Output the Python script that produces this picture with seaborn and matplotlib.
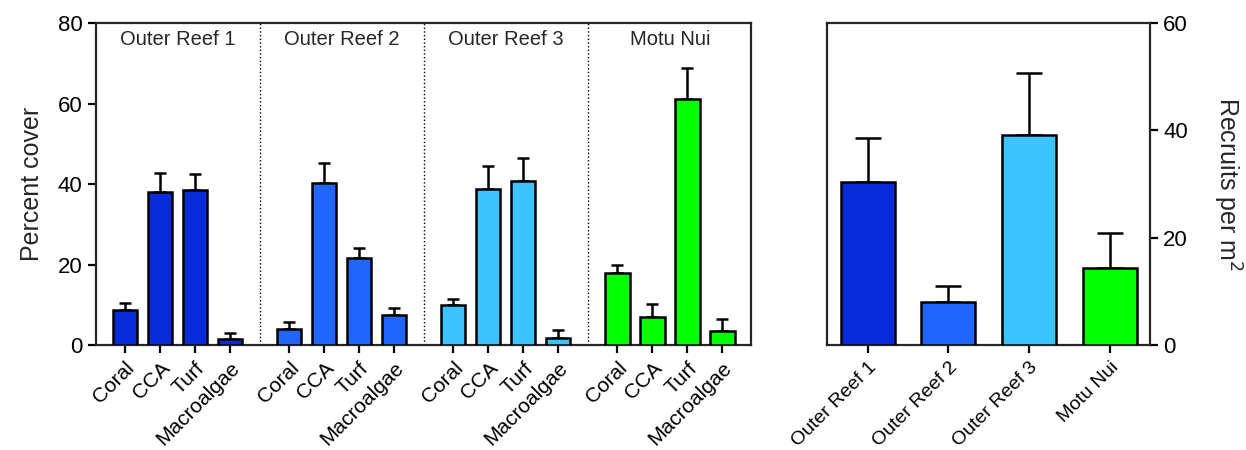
import pandas as pd
import numpy as np
import matplotlib
matplotlib.use("Agg")
import matplotlib.pyplot as plt
import seaborn as sns

# ------------------------------
# Data
# ------------------------------
sites = ["Outer Reef 1", "Outer Reef 2", "Outer Reef 3", "Motu Nui"]
benthos = ["Coral", "CCA", "Turf", "Macroalgae"]

cover_or1 = [8.7, 38.1, 38.4, 1.5]
cover_or2 = [4.1, 40.3, 21.6, 7.5]
cover_or3 = [9.9, 38.7, 40.8, 1.8]
cover_motu = [18.0, 7.0, 61.2, 3.5]

cover_err_or1 = [1.7, 4.6, 4.1, 1.6]
cover_err_or2 = [1.6, 4.9, 2.4, 1.7]
cover_err_or3 = [1.5, 5.7, 5.6, 1.9]
cover_err_motu = [2.0, 3.3, 7.7, 3.0]

recruits = [30.4, 8.0, 39.2, 14.4]
recruits_err = [8.1, 3.0, 11.5, 6.5]

site_colors = ["#0A2BDB", "#2167FF", "#3BC4FF", "#00FF00"]

# ------------------------------
# Style
# ------------------------------
sns.set_style("ticks")
plt.rcParams["font.family"] = ["Liberation Sans", "DejaVu Sans"]
plt.rcParams["axes.linewidth"] = 1.6
plt.rcParams["xtick.major.width"] = 1.6
plt.rcParams["ytick.major.width"] = 1.6
plt.rcParams["xtick.major.size"] = 6
plt.rcParams["ytick.major.size"] = 6
plt.rcParams["xtick.color"] = "black"
plt.rcParams["ytick.color"] = "black"

palette = dict(zip(sites, site_colors))
group_step = 4.69  # spacing between site groups on the left panel

cover_all = [cover_or1, cover_or2, cover_or3, cover_motu]
err_all = [cover_err_or1, cover_err_or2, cover_err_or3, cover_err_motu]
rows = []
for g, site in enumerate(sites):
    for i, cat in enumerate(benthos):
        rows.append({"site": site, "benthos": cat, "pos": g * group_step + i,
                     "cover": cover_all[g][i], "err": err_all[g][i]})
df_cover = pd.DataFrame(rows)

df_rec = pd.DataFrame({"site": sites, "recruits": recruits, "err": recruits_err})

fig = plt.figure(figsize=(12.46, 4.5), dpi=100)
ax1 = fig.add_axes([0.077, 0.233, 0.526, 0.716])
ax2 = fig.add_axes([0.664, 0.233, 0.259, 0.716])

# --- Left panel : percent cover ---
sns.barplot(data=df_cover, x="pos", y="cover", hue="site", palette=palette,
            native_scale=True, dodge=False, width=0.7, errorbar=None,
            saturation=1, edgecolor="black", linewidth=1.8, legend=False,
            ax=ax1, zorder=3)
ax1.errorbar(df_cover["pos"], df_cover["cover"],
             yerr=[np.zeros(len(df_cover)), df_cover["err"]],
             fmt="none", ecolor="black", elinewidth=1.8, capsize=4.6,
             capthick=1.8, zorder=2)
ax1.set_xlim(-0.83, 3 * group_step + 3 + 0.83)
ax1.set_ylim(0, 80)
ax1.set_yticks([0, 20, 40, 60, 80])
ax1.set_xticks(df_cover["pos"])
ax1.set_xticklabels(df_cover["benthos"], rotation=45, ha="right",
                    rotation_mode="anchor", fontsize=15)
ax1.tick_params(axis="y", labelsize=16)
ax1.set_xlabel("")
ax1.set_ylabel("Percent cover", fontsize=18, labelpad=10)
for g in range(1, len(sites)):
    ax1.axvline(g * group_step - (group_step - 3) / 2, color="black",
                linestyle=":", linewidth=1.0, zorder=1)
for g, site in enumerate(sites):
    ax1.text(g * group_step + 1.5, 75.8, site, ha="center", va="center",
             fontsize=14.5)
for s in ["top", "right", "left", "bottom"]:
    ax1.spines[s].set_visible(True)

# --- Right panel : recruits ---
sns.barplot(data=df_rec, x="site", y="recruits", hue="site", palette=palette,
            dodge=False, width=0.67, errorbar=None, saturation=1,
            edgecolor="black", linewidth=1.8, legend=False, ax=ax2, zorder=3)
ax2.errorbar(np.arange(len(sites)), df_rec["recruits"],
             yerr=[np.zeros(len(sites)), df_rec["err"]],
             fmt="none", ecolor="black", elinewidth=1.8, capsize=9.6,
             capthick=1.8, zorder=2)
ax2.set_xlim(-0.5, 3.5)
ax2.set_ylim(0, 60)
ax2.set_yticks([0, 20, 40, 60])
ax2.yaxis.tick_right()
ax2.yaxis.set_label_position("right")
ax2.set_xticks(range(len(sites)))
ax2.set_xticklabels(sites, rotation=45, ha="right", rotation_mode="anchor",
                    fontsize=14)
ax2.tick_params(axis="y", labelsize=16)
ax2.set_xlabel("")
ax2.set_ylabel("Recruits per m$^2$", fontsize=18, rotation=270, labelpad=40)
for s in ["top", "right", "left", "bottom"]:
    ax2.spines[s].set_visible(True)

plt.savefig("out.png", dpi=100)
plt.close()
